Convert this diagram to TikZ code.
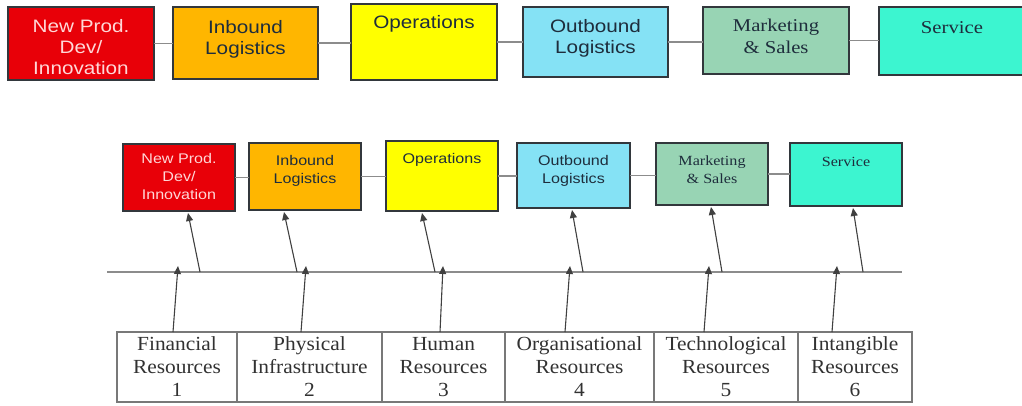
\documentclass[tikz,border=0pt]{standalone}
\usepackage{fontspec}
\setmainfont{Liberation Serif}
\newfontfamily\hsans[FakeStretch=1.15]{Liberation Sans}
\newfontfamily\hserif[FakeStretch=1.15]{Liberation Serif}
\newfontfamily\tserif[FakeStretch=1.07]{Liberation Serif}
\usetikzlibrary{arrows.meta,calc}
\definecolor{cRed}{RGB}{232,0,8}
\definecolor{cOrange}{RGB}{255,182,0}
\definecolor{cYellow}{RGB}{255,255,0}
\definecolor{cCyan}{RGB}{133,226,245}
\definecolor{cGreen}{RGB}{152,212,180}
\definecolor{cServ}{RGB}{60,245,208}
\definecolor{boxline}{RGB}{50,55,60}
\definecolor{txtdark}{RGB}{30,45,60}
\definecolor{txtlight}{RGB}{255,215,215}
\definecolor{connc}{RGB}{140,140,140}
\definecolor{tabline}{RGB}{120,120,120}
\definecolor{tabtxt}{RGB}{50,50,50}
\newcommand{\btxt}[5]{\parbox[c][#2pt][t]{#1pt}{\centering\vspace*{#3pt}#4\strut#5\par}}
\newcommand{\bigsans}{\hsans\fontsize{18}{21}\selectfont}
\newcommand{\bigserif}{\hserif\fontsize{18}{22}\selectfont}
\newcommand{\smallsans}{\hsans\fontsize{14}{18}\selectfont}
\newcommand{\smallserif}{\hserif\fontsize{14}{18}\selectfont}
\tikzset{
  vbox/.style={draw=boxline, line width=1.3pt, inner sep=0pt, outer sep=0pt, text=txtdark},
  conn/.style={draw=connc, line width=1.2pt},
  arr/.style={draw=black!75, line width=1.1pt, -{Triangle[length=8pt,width=7pt]}},
  cell/.style={draw=tabline, line width=1.2pt, inner sep=0pt, outer sep=0pt, minimum height=70pt, align=center, text=tabtxt, font=\tserif\fontsize{20}{23}\selectfont},
}
\begin{document}
\begin{tikzpicture}[x=1pt,y=-1pt]
\useasboundingbox (0,0) rectangle (1022,406);
% ---------- top row ----------
\node[vbox, fill=cRed, text=txtlight] (t1) at (81,43.5) {\btxt{146}{73}{10.5}{\bigsans}{New Prod.\\Dev/\\Innovation}};
\node[vbox, fill=cOrange] (t2) at (245.5,43) {\btxt{145}{72}{12}{\bigsans}{Inbound\\Logistics}};
\node[vbox, fill=cYellow] (t3) at (424,42) {\btxt{146}{76}{9.5}{\bigsans}{Operations}};
\node[vbox, fill=cCyan] (t4) at (595.5,42) {\btxt{145}{70}{11}{\bigsans}{Outbound\\Logistics}};
\node[vbox, fill=cGreen] (t5) at (776,40.5) {\btxt{146}{67}{9}{\bigserif}{Marketing\\\& Sales}};
\node[vbox, fill=cServ] (t6) at (952,41) {\btxt{146}{68}{11}{\bigserif}{Service}};
\draw[conn] (t1.east) -- (t1.east -| t2.west);
\draw[conn] (t2.east) -- (t2.east -| t3.west);
\draw[conn] (t3.east) -- (t3.east -| t4.west);
\draw[conn] (t4.east) -- (t4.east -| t5.west);
\draw[conn] (t5.east) -- (t5.east -| t6.west);
% ---------- bottom row ----------
\node[vbox, fill=cRed, text=txtlight] (b1) at (179,177.5) {\btxt{112}{67}{7}{\smallsans}{New Prod.\\Dev/\\Innovation}};
\node[vbox, fill=cOrange] (b2) at (305,176.5) {\btxt{112}{67}{9.5}{\smallsans}{Inbound\\Logistics}};
\node[vbox, fill=cYellow] (b3) at (442,176) {\btxt{112}{70}{9.5}{\smallsans}{Operations}};
\node[vbox, fill=cCyan] (b4) at (573.5,175.5) {\btxt{113}{65}{9.5}{\smallsans}{Outbound\\Logistics}};
\node[vbox, fill=cGreen] (b5) at (712,174) {\btxt{112}{62}{9.5}{\smallserif}{Marketing\\\& Sales}};
\node[vbox, fill=cServ] (b6) at (846,174.5) {\btxt{112}{63}{11}{\smallserif}{Service}};
\draw[conn] (b1.east) -- (b1.east -| b2.west);
\draw[conn] (b2.east) -- (b2.east -| b3.west);
\draw[conn] (b3.east) -- (b3.east -| b4.west);
\draw[conn] (b4.east) -- (b4.east -| b5.west);
\draw[conn] (b5.east) -- (b5.east -| b6.west);
% ---------- horizontal line ----------
\coordinate (hl) at (107,272);
\coordinate (hr) at (902,272);
\draw[draw=connc, line width=1.3pt] (hl) -- (hr);
% points on line
\coordinate (u1) at (200,272);
\coordinate (u2) at (297,272);
\coordinate (u3) at (435,272);
\coordinate (u4) at (583,272);
\coordinate (u5) at (722,272);
\coordinate (u6) at (863,272);
\coordinate (d1) at (178,266);
\coordinate (d2) at (306,266);
\coordinate (d3) at (443,266);
\coordinate (d4) at (570,266);
\coordinate (d5) at (709,266);
\coordinate (d6) at (837,266);
% ---------- table ----------
\node[cell, minimum width=120pt] (f1) at (177,367) {Financial\\Resources\\1};
\node[cell, minimum width=145pt] (f2) at (309.5,367) {Physical\\Infrastructure\\2};
\node[cell, minimum width=123pt] (f3) at (443.5,367) {Human\\Resources\\3};
\node[cell, minimum width=149pt] (f4) at (579.5,367) {Organisational\\Resources\\4};
\node[cell, minimum width=144pt] (f5) at (726,367) {Technological\\Resources\\5};
\node[cell, minimum width=114pt] (f6) at (855,367) {Intangible\\Resources\\6};
% ---------- arrows ----------
\draw[arr] (u1) -- ($(b1.south)+(9,2)$);
\draw[arr] (u2) -- ($(b2.south)+(-21,2)$);
\draw[arr] (u3) -- ($(b3.south)+(-20,2)$);
\draw[arr] (u4) -- ($(b4.south)+(-1.5,2)$);
\draw[arr] (u5) -- ($(b5.south)+(-1,2)$);
\draw[arr] (u6) -- ($(b6.south)+(7,2)$);
\draw[arr] ($(f1.north)+(-4,0)$) -- (d1);
\draw[arr] ($(f2.north)+(-8.5,0)$) -- (d2);
\draw[arr] ($(f3.north)+(-3.5,0)$) -- (d3);
\draw[arr] ($(f4.north)+(-14.5,0)$) -- (d4);
\draw[arr] ($(f5.north)+(-22,0)$) -- (d5);
\draw[arr] ($(f6.north)+(-23,0)$) -- (d6);
\end{tikzpicture}
\end{document}
